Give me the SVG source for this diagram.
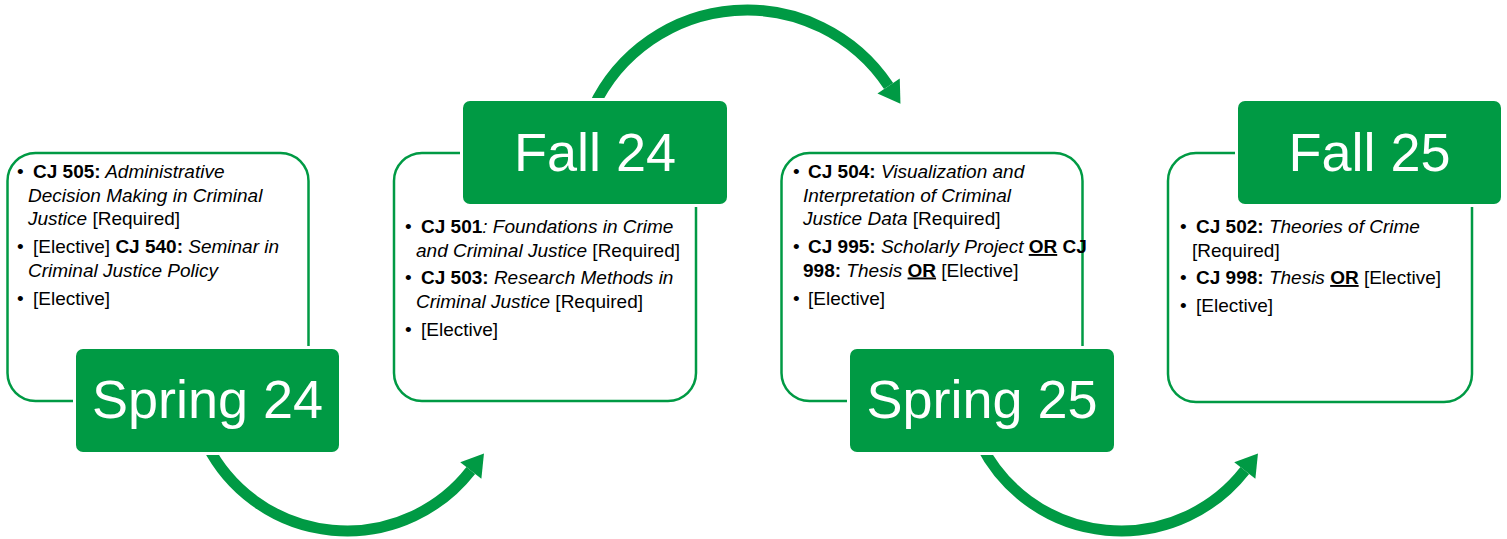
<svg xmlns="http://www.w3.org/2000/svg" width="1507" height="539" viewBox="0 0 1507 539">
<style>
.box{fill:#fff;stroke:#009A44;stroke-width:2.5}
.label{fill:#009A44;stroke:#fff;stroke-width:6;paint-order:stroke}
.lt{font-family:"Liberation Sans",Arial,sans-serif;font-size:54px;fill:#fff;text-anchor:middle}
.t{font-family:"Liberation Sans",Arial,sans-serif;font-size:19px;fill:#000}
.b{font-weight:bold}
.i{font-style:italic}
.u{font-weight:bold;text-decoration:underline}
.arc{fill:none;stroke:#009A44;stroke-width:11;marker-end:url(#head)}
</style>
<defs>
<marker id="head" markerUnits="userSpaceOnUse" markerWidth="30" markerHeight="30" viewBox="-2 -14 24 28" refX="0" refY="0" orient="auto">
<path d="M0,-12.5 L20,0 L0,12.5 Z" fill="#009A44"/>
</marker>
</defs>
<g id="connectors">
<path class="arc" d="M207,445 A157,157 0 0 0 470.8,470.5"/>
<path class="arc" d="M593,108 A170,170 0 0 1 888.6,86"/>
<path class="arc" d="M981,445 A157,157 0 0 0 1244.8,470.5"/>
</g>
<g id="spring24">
<rect class="box" x="7.5" y="153" width="301" height="248" rx="28"/>
<text class="t" x="17" y="178">•<tspan x="33" class="b">CJ 505:</tspan><tspan class="i"> Administrative</tspan></text>
<text class="t i" x="28" y="201.5">Decision Making in Criminal</text>
<text class="t" x="28" y="225"><tspan class="i">Justice</tspan> [Required]</text>
<text class="t" x="17" y="253">•<tspan x="33">[Elective] </tspan><tspan class="b">CJ 540:</tspan><tspan class="i"> Seminar in</tspan></text>
<text class="t i" x="28" y="276.5">Criminal Justice Policy</text>
<text class="t" x="17" y="304.5">•<tspan x="33">[Elective]</tspan></text>
<rect class="label" x="76" y="349" width="263" height="103" rx="7"/>
<text class="lt" x="207.5" y="418">Spring 24</text>
</g>
<g id="fall24">
<rect class="box" x="394" y="153" width="302" height="248" rx="28"/>
<text class="t" x="405" y="233">•<tspan x="421" class="b">CJ 501</tspan><tspan class="i">: Foundations in Crime</tspan></text>
<text class="t" x="416" y="256.5"><tspan class="i">and Criminal Justice</tspan> [Required]</text>
<text class="t" x="405" y="284">•<tspan x="421" class="b">CJ 503:</tspan><tspan class="i"> Research Methods in</tspan></text>
<text class="t" x="416" y="307.5"><tspan class="i">Criminal Justice</tspan> [Required]</text>
<text class="t" x="405" y="335.5">•<tspan x="421">[Elective]</tspan></text>
<rect class="label" x="463" y="101" width="264" height="103" rx="7"/>
<text class="lt" x="595" y="171">Fall 24</text>
</g>
<g id="spring25">
<rect class="box" x="781.5" y="153" width="301" height="248" rx="28"/>
<text class="t" x="793" y="178">•<tspan x="808" class="b">CJ 504:</tspan><tspan class="i"> Visualization and</tspan></text>
<text class="t i" x="803" y="201.5">Interpretation of Criminal</text>
<text class="t" x="803" y="225"><tspan class="i">Justice Data</tspan> [Required]</text>
<text class="t" x="793" y="253">•<tspan x="808" class="b">CJ 995:</tspan><tspan class="i"> Scholarly Project</tspan> <tspan class="u">OR</tspan><tspan class="b"> CJ</tspan></text>
<text class="t" x="803" y="276.5"><tspan class="b">998:</tspan><tspan class="i"> Thesis</tspan> <tspan class="u">OR</tspan> [Elective]</text>
<text class="t" x="793" y="304.5">•<tspan x="808">[Elective]</tspan></text>
<rect class="label" x="850" y="349" width="264" height="103" rx="7"/>
<text class="lt" x="982" y="418">Spring 25</text>
</g>
<g id="fall25">
<rect class="box" x="1168" y="153" width="304" height="249" rx="28"/>
<text class="t" x="1180" y="233">•<tspan x="1196" class="b">CJ 502:</tspan><tspan class="i"> Theories of Crime</tspan></text>
<text class="t" x="1192" y="256.5">[Required]</text>
<text class="t" x="1180" y="284">•<tspan x="1196" class="b">CJ 998:</tspan><tspan class="i"> Thesis</tspan> <tspan class="u">OR</tspan> [Elective]</text>
<text class="t" x="1180" y="312">•<tspan x="1196">[Elective]</tspan></text>
<rect class="label" x="1238" y="101" width="263" height="103" rx="7"/>
<text class="lt" x="1369.5" y="171">Fall 25</text>
</g>
</svg>
